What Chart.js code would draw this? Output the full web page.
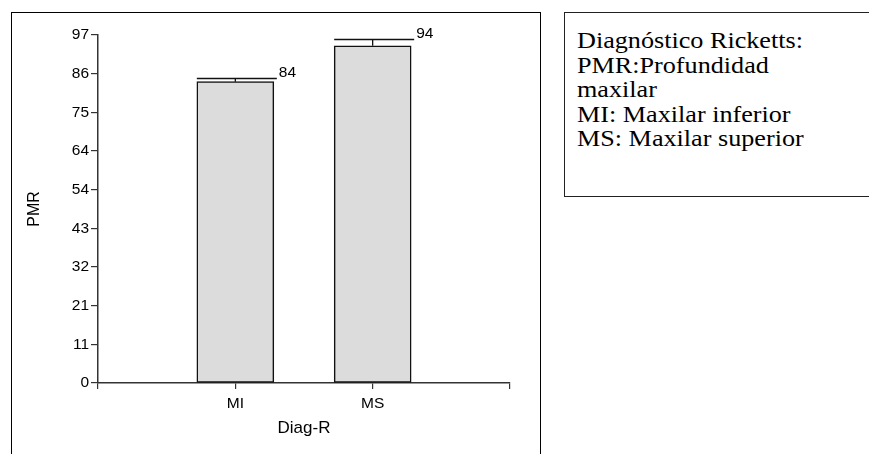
<!DOCTYPE html>
<html>
<head>
<meta charset="utf-8">
<script src="https://cdn.jsdelivr.net/npm/chart.js@4.4.0/dist/chart.umd.min.js"></script>
<style>
  html, body { margin:0; padding:0; background:#fff; width:869px; height:454px; overflow:hidden; }
  #frame { position:absolute; left:11px; top:12px; width:530px; height:460px; border:1.5px solid #000; box-sizing:border-box; }
  #wrap { position:absolute; left:0; top:0; width:544px; height:454px; }
  #note { position:absolute; left:564px; top:12px; width:330px; height:185px; border:1.3px solid #222; box-sizing:border-box;
          font-family:"Liberation Serif","Times New Roman",serif; font-size:24px; line-height:24.5px; color:#000; padding:15px 0 0 12px; }
  #note span { display:inline-block; white-space:nowrap; transform:scaleX(1.09); transform-origin:0 0; }
</style>
</head>
<body>
<div id="frame"></div>
<div id="wrap"><canvas id="c" width="544" height="454"></canvas></div>
<div id="note"><span>Diagnóstico Ricketts:<br>PMR:Profundidad<br>maxilar<br>MI: Maxilar inferior<br>MS: Maxilar superior</span></div>
<script>
const categories = ['', 'MI', 'MS', ''];
const pmrValues = [null, 84, 94, null];
const errorUpper = [null, 85, 96, null];
const valueLabels = [null, '84', '94', null];
const tickValues = [0, 10.78, 21.56, 32.33, 43.11, 53.89, 64.67, 75.44, 86.22, 97];
const tickLabels = ['0', '11', '21', '32', '43', '54', '64', '75', '86', '97'];

const FONT = '"Liberation Sans", Arial, sans-serif';

const errorBarPlugin = {
  id: 'errorBars',
  afterDatasetsDraw(chart) {
    const ctx = chart.ctx;
    const meta = chart.getDatasetMeta(0);
    const yScale = chart.scales.y;
    ctx.save();
    meta.data.forEach((bar, i) => {
      if (pmrValues[i] == null) return;
      const props = bar.getProps(['x', 'y', 'width'], true);
      const left = props.x - props.width / 2;
      const right = props.x + props.width / 2 + 3;
      const yTop = Math.round(yScale.getPixelForValue(errorUpper[i])) + 0.5;
      ctx.strokeStyle = '#111';
      ctx.lineWidth = 1.3;
      ctx.beginPath();
      ctx.moveTo(props.x, props.y);
      ctx.lineTo(props.x, yTop);
      ctx.moveTo(left, yTop);
      ctx.lineTo(right, yTop);
      ctx.stroke();
      ctx.fillStyle = '#000';
      ctx.font = '15.5px ' + FONT;
      ctx.textAlign = 'left';
      ctx.textBaseline = 'alphabetic';
      ctx.fillText(valueLabels[i], right + 2, yTop - 1.5);
    });
    ctx.restore();
  }
};

new Chart(document.getElementById('c'), {
  type: 'bar',
  data: {
    labels: categories,
    datasets: [{
      data: pmrValues,
      backgroundColor: '#dcdcdc',
      borderColor: '#111',
      borderWidth: 1.5,
      borderSkipped: false,
      barThickness: 77
    }]
  },
  options: {
    responsive: false,
    animation: false,
    events: [],
    layout: { padding: { left: 0, right: 34, top: 35, bottom: 15 } },
    plugins: { legend: { display: false }, tooltip: { enabled: false } },
    scales: {
      x: {
        type: 'category',
        offset: false,
        grid: { offset: false, drawOnChartArea: false, drawTicks: true, tickLength: 6, color: '#333', lineWidth: 1.2 },
        border: { display: true, color: '#333', width: 1.5 },
        ticks: { font: { size: 15.5, family: FONT }, color: '#000', padding: 5, maxRotation: 0, autoSkip: false },
        title: { display: true, text: 'Diag-R', font: { size: 17, family: FONT }, color: '#000', padding: { top: 1, bottom: 0 } }
      },
      y: {
        min: 0,
        max: 97,
        afterBuildTicks(scale) { scale.ticks = tickValues.map(v => ({ value: v })); },
        afterFit(scale) { scale.width = 98; },
        grid: { drawOnChartArea: false, drawTicks: true, tickLength: 7, color: '#333', lineWidth: 1.2 },
        border: { display: true, color: '#333', width: 1.5 },
        ticks: {
          font: { size: 15.5, family: FONT }, color: '#000', padding: 2,
          callback(value, index) { return tickLabels[index]; }
        },
        title: { display: true, text: 'PMR', font: { size: 16, family: FONT }, color: '#000', padding: { top: 25, bottom: 0 } }
      }
    }
  },
  plugins: [errorBarPlugin]
});
</script>
</body>
</html>
